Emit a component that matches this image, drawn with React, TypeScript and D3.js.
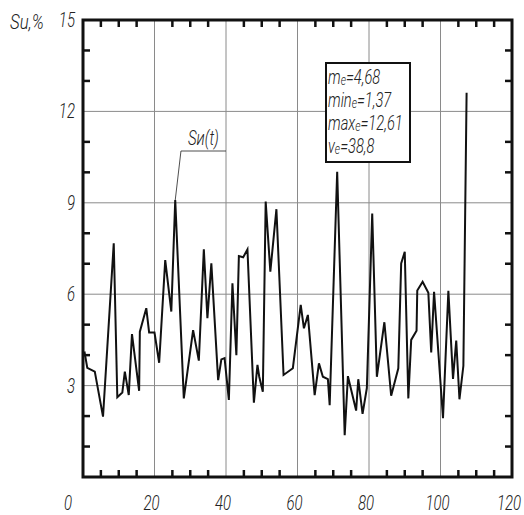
import React from "react";
import * as d3 from "d3";

const tValues = [0.4, 1.2, 3.3, 5.6, 8.6, 9.6, 11.0, 11.7, 12.8, 13.7, 15.7, 15.9, 17.7, 18.5, 20.0, 21.3, 23.0, 24.7, 25.8, 28.2, 30.8, 32.4, 33.8, 34.8, 35.9, 37.8, 38.7, 39.6, 40.8, 41.8, 42.9, 43.6, 44.8, 46.0, 47.8, 48.8, 49.3, 50.3, 51.1, 52.4, 54.1, 56.1, 58.7, 60.9, 61.8, 62.9, 64.8, 66.0, 67.1, 68.5, 69.0, 71.1, 73.2, 74.1, 76.4, 77.0, 78.2, 79.4, 80.9, 82.2, 84.3, 86.2, 88.2, 89.0, 90.0, 91.0, 91.8, 93.3, 93.5, 95.0, 96.6, 97.4, 98.2, 100.7, 102.2, 103.5, 104.4, 105.3, 106.4, 107.3];
const suValues = [4.12, 3.58, 3.46, 1.98, 7.67, 2.62, 2.77, 3.46, 2.69, 4.69, 2.83, 4.77, 5.54, 4.74, 4.74, 3.75, 7.12, 5.43, 9.09, 2.58, 4.82, 3.82, 7.47, 5.21, 7.01, 3.18, 3.86, 3.9, 2.53, 6.36, 4.0, 7.25, 7.21, 7.47, 2.44, 3.68, 3.29, 2.8, 9.04, 6.74, 8.79, 3.35, 3.57, 5.65, 4.88, 5.32, 2.69, 3.73, 3.29, 3.21, 2.36, 10.02, 1.37, 3.31, 2.18, 3.21, 2.07, 2.92, 8.65, 3.29, 5.08, 2.67, 3.57, 7.01, 7.39, 2.58, 4.5, 4.8, 6.12, 6.41, 6.05, 4.09, 6.08, 1.93, 6.11, 3.22, 4.48, 2.55, 3.65, 12.61];

const xTickLabels = [0, 20, 40, 60, 80, 100, 120];
const yTickLabels = [3, 6, 9, 12, 15];
const statNames = ["m", "min", "max", "v"];
const statValues = ["4,68", "1,37", "12,61", "38,8"];
const yAxisTitle = "Su,%";
const seriesLabel = "Sи(t)";

const FONT = "Roboto, 'DejaVu Sans', sans-serif";

function Txt(props: { x: number; y: number; size: number; sx?: number; anchor?: string; children: React.ReactNode }) {
  return (
    <text
      transform={`translate(${props.x},${props.y}) scale(${props.sx ?? 0.75},1)`}
      fontSize={props.size}
      textAnchor={props.anchor || "start"}
      style={{ fontFamily: FONT, fontStyle: "italic", fontWeight: 300, fill: "#222" }}
    >
      {props.children}
    </text>
  );
}

export default function App() {
  const W = 524, H = 515;
  const L = 83, R = 512, T = 20, B = 477;
  const x = d3.scaleLinear().domain([0, 120]).range([L, R]);
  const y = d3.scaleLinear().domain([0, 15]).range([B, T]);

  const data = tValues.map((t, i) => [t, suValues[i]] as [number, number]);
  const line = d3.line<[number, number]>().x(d => x(d[0])).y(d => y(d[1]))(data) || "";

  const xGrid = [20, 40, 60, 80, 100];
  const yGrid = [3, 6, 9, 12];
  const xMinor = d3.range(5, 120, 5).filter(v => v % 20 !== 0);
  const yMinor = d3.range(1, 15).filter(v => v % 3 !== 0);
  const tl = 7;

  const peakIdx = 18;
  const lead1: [number, number] = [27.4, 10.7];
  const lead2: [number, number] = [40, 10.7];

  return (
    <svg width={W} height={H} style={{ position: "absolute", left: 0, top: 0, background: "#fff" }}>
      <rect x={0} y={0} width={W} height={H} fill="#fff" />
      {xGrid.map(v => (
        <line key={"gx" + v} x1={x(v)} x2={x(v)} y1={T} y2={B} stroke="#8a8a8a" strokeWidth={1} />
      ))}
      {yGrid.map(v => (
        <line key={"gy" + v} x1={L} x2={R} y1={y(v)} y2={y(v)} stroke="#8a8a8a" strokeWidth={1} />
      ))}
      {xMinor.map(v => (
        <g key={"mx" + v}>
          <line x1={x(v)} x2={x(v)} y1={T} y2={T + tl} stroke="#111" strokeWidth={2.5} />
          <line x1={x(v)} x2={x(v)} y1={B} y2={B - tl} stroke="#111" strokeWidth={2.5} />
        </g>
      ))}
      {yMinor.map(v => (
        <g key={"my" + v}>
          <line x1={L} x2={L + tl} y1={y(v)} y2={y(v)} stroke="#111" strokeWidth={2.5} />
          <line x1={R} x2={R - tl} y1={y(v)} y2={y(v)} stroke="#111" strokeWidth={2.5} />
        </g>
      ))}
      <path d={line} fill="none" stroke="#111" strokeWidth={2} strokeLinejoin="miter" />
      <rect x={L} y={T} width={R - L} height={B - T} fill="none" stroke="#111" strokeWidth={3} />

      <polyline
        points={[data[peakIdx], lead1, lead2].map(p => `${x(p[0])},${y(p[1])}`).join(" ")}
        fill="none" stroke="#222" strokeWidth={0.8}
      />
      <Txt x={x(lead1[0]) + 7} y={y(lead1[1]) - 6} size={20}>{seriesLabel}</Txt>

      <rect x={326} y={63} width={84} height={99} fill="#fff" stroke="#111" strokeWidth={2} />
      {statNames.map((n, i) => (
        <Txt key={"st" + i} x={328} y={84 + i * 23} size={21} sx={0.7}>
          {n}
          <tspan fontSize={15} dy={1}>e</tspan>
          <tspan dy={-1}>={statValues[i]}</tspan>
        </Txt>
      ))}

      {yTickLabels.map(v => (
        <Txt key={"yl" + v} x={75} y={y(v) + 7} size={20} anchor="end">{v}</Txt>
      ))}
      {xTickLabels.map(v => (
        <Txt key={"xl" + v} x={x(v) + (v === 0 ? -15 : -3)} y={510} size={20} anchor="middle">{v}</Txt>
      ))}
      <Txt x={10} y={29} size={21} sx={0.8}>{yAxisTitle}</Txt>
    </svg>
  );
}
